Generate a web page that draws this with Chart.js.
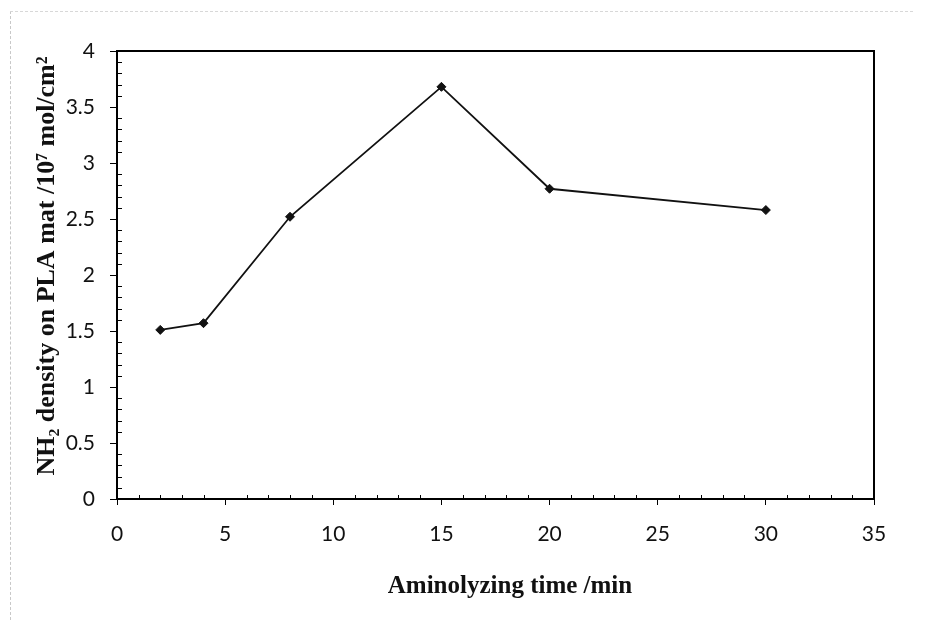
<!DOCTYPE html>
<html>
<head>
<meta charset="utf-8">
<script src="https://cdn.jsdelivr.net/npm/chart.js@4"></script>
<style>
  html, body { margin: 0; padding: 0; background: #fff; }
  #wrap { position: relative; width: 927px; height: 620px; }
  #edge { position: absolute; left: 10px; top: 11px; right: 14px; bottom: 0;
          border-left: 1px dashed #c8c8c8; border-top: 1px dashed #d8d8d8; pointer-events: none; }
</style>
</head>
<body>
<div id="wrap">
  <canvas id="chart" width="927" height="620"></canvas>
  <div id="edge"></div>
</div>
<script>
const times = [2, 4, 8, 15, 20, 30];
const densities = [1.51, 1.57, 2.52, 3.68, 2.77, 2.58];
const xTitle = 'Aminolyzing time /min';
const yTitle = 'NH\u2082 density on PLA mat /10\u2077 mol/cm\u00B2';

// frame around plot area, small inward minor ticks and the two axis titles
const frameAndMinor = {
    id: 'frameAndMinor',
    afterDraw(chart) {
        const ctx = chart.ctx;
        const a = chart.chartArea;
        const xs = chart.scales.x;
        const ys = chart.scales.y;
        ctx.save();
        ctx.strokeStyle = '#000';
        ctx.lineWidth = 1;
        for (let v = 1; v < 35; v++) {
            if (v % 5 === 0) continue;
            const px = Math.round(xs.getPixelForValue(v)) + 0.5;
            ctx.beginPath();
            ctx.moveTo(px, a.bottom);
            ctx.lineTo(px, a.bottom - 4);
            ctx.stroke();
        }
        for (let i = 1; i < 40; i++) {
            if (i % 5 === 0) continue;
            const py = Math.round(ys.getPixelForValue(i / 10)) + 0.5;
            ctx.beginPath();
            ctx.moveTo(a.left, py);
            ctx.lineTo(a.left + 5, py);
            ctx.stroke();
        }
        ctx.lineWidth = 2;
        ctx.strokeRect(a.left, a.top, a.right - a.left, a.bottom - a.top);

        ctx.fillStyle = '#111';
        ctx.textAlign = 'center';
        ctx.textBaseline = 'alphabetic';
        ctx.font = 'bold 25px "Liberation Serif"';
        ctx.fillText(xTitle, 510, 593);

        ctx.translate(54, 266);
        ctx.rotate(-Math.PI / 2);
        ctx.font = 'bold 26px "Liberation Serif"';
        ctx.fillText(yTitle, 0, 0);
        ctx.restore();
    }
};

const ctx = document.getElementById('chart').getContext('2d');
new Chart(ctx, {
    type: 'scatter',
    data: {
        datasets: [{
            data: times.map((t, i) => ({ x: t, y: densities[i] })),
            showLine: true,
            borderColor: '#111',
            borderWidth: 1.8,
            pointStyle: 'rectRot',
            pointRadius: 4.5,
            pointBackgroundColor: '#111',
            pointBorderColor: '#111',
            pointBorderWidth: 1
        }]
    },
    options: {
        responsive: false,
        animation: false,
        layout: { padding: { top: 51, right: 53, left: 0, bottom: 0 } },
        plugins: { legend: { display: false }, tooltip: { enabled: false } },
        scales: {
            x: {
                type: 'linear',
                min: 0,
                max: 35,
                afterFit(scale) { scale.height = 121; },
                ticks: {
                    stepSize: 5,
                    color: '#111',
                    padding: 17,
                    font: { family: 'Lato', size: 21 }
                },
                grid: { drawOnChartArea: false, tickLength: 6, color: '#000' },
                border: { color: '#000', width: 2 }
            },
            y: {
                min: 0,
                max: 4,
                afterFit(scale) { scale.width = 117; },
                ticks: {
                    stepSize: 0.5,
                    color: '#111',
                    padding: 15,
                    font: { family: 'Lato', size: 21 },
                    callback: v => String(v)
                },
                grid: { drawOnChartArea: false, tickLength: 7, color: '#000' },
                border: { color: '#000', width: 2 }
            }
        }
    },
    plugins: [frameAndMinor]
});
</script>
</body>
</html>
